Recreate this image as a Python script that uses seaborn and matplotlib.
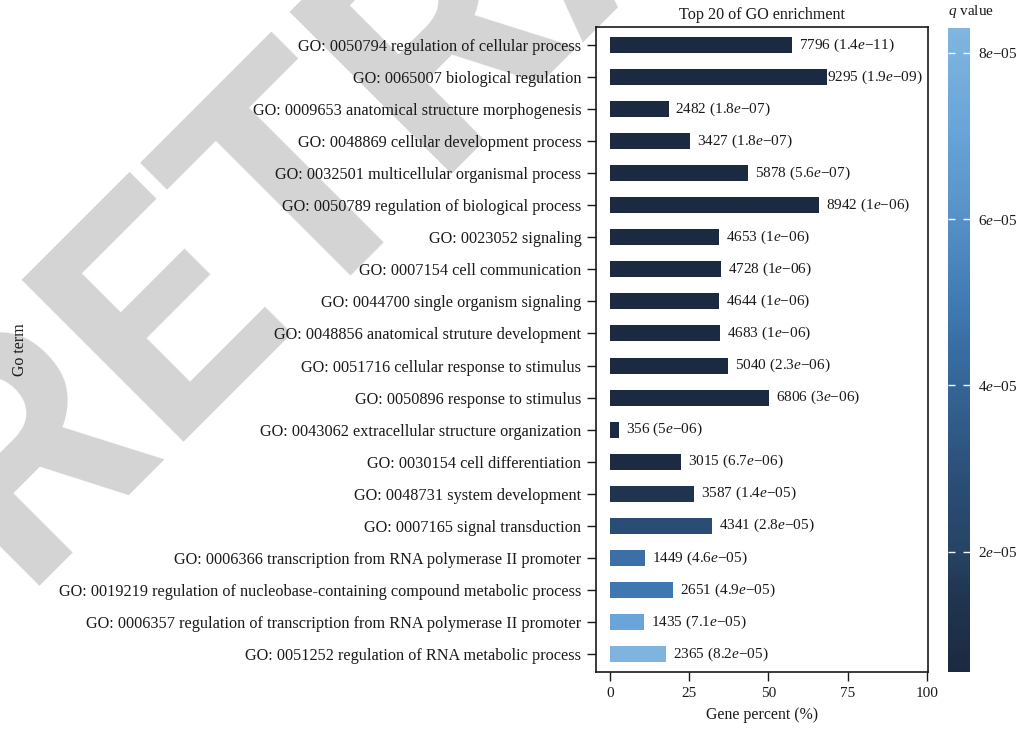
import matplotlib
matplotlib.use("Agg")
import matplotlib.pyplot as plt
from matplotlib.colors import LinearSegmentedColormap, Normalize
from matplotlib.cm import ScalarMappable
import seaborn as sns
import pandas as pd

# GO terms, top to bottom
terms = [
    "GO: 0050794 regulation of cellular process",
    "GO: 0065007 biological regulation",
    "GO: 0009653 anatomical structure morphogenesis",
    "GO: 0048869 cellular development process",
    "GO: 0032501 multicellular organismal process",
    "GO: 0050789 regulation of biological process",
    "GO: 0023052 signaling",
    "GO: 0007154 cell communication",
    "GO: 0044700 single organism signaling",
    "GO: 0048856 anatomical struture development",
    "GO: 0051716 cellular response to stimulus",
    "GO: 0050896 response to stimulus",
    "GO: 0043062 extracellular structure organization",
    "GO: 0030154 cell differentiation",
    "GO: 0048731 system development",
    "GO: 0007165 signal transduction",
    "GO: 0006366 transcription from RNA polymerase II promoter",
    "GO: 0019219 regulation of nucleobase-containing compound metabolic process",
    "GO: 0006357 regulation of transcription from RNA polymerase II promoter",
    "GO: 0051252 regulation of RNA metabolic process",
]
gene_counts = [7796, 9295, 2482, 3427, 5878, 8942, 4653, 4728, 4644, 4683,
               5040, 6806, 356, 3015, 3587, 4341, 1449, 2651, 1435, 2365]
gene_percent = [57.6, 68.4, 18.5, 25.2, 43.5, 66.0, 34.4, 35.0, 34.4, 34.8,
                37.3, 50.2, 2.8, 22.4, 26.5, 32.2, 11.0, 20.0, 10.7, 17.6]
q_mantissa = ["1.4", "1.9", "1.8", "1.8", "5.6", "1", "1", "1", "1", "1",
              "2.3", "3", "5", "6.7", "1.4", "2.8", "4.6", "4.9", "7.1", "8.2"]
q_exponent = ["11", "09", "07", "07", "07", "06", "06", "06", "06", "06",
              "06", "06", "06", "06", "05", "05", "05", "05", "05", "05"]
q_values = [float(f"{m}e-{e}") for m, e in zip(q_mantissa, q_exponent)]
cbar_ticks = [2e-5, 4e-5, 6e-5, 8e-5]

df = pd.DataFrame({"term": terms, "percent": gene_percent, "q": q_values})

sns.set_style("white")
plt.rcParams["font.family"] = ["Liberation Serif", "DejaVu Serif"]
plt.rcParams["mathtext.fontset"] = "custom"
plt.rcParams["mathtext.rm"] = "Liberation Serif"
plt.rcParams["mathtext.it"] = "Liberation Serif:italic"
plt.rcParams["axes.unicode_minus"] = True

TXT = "#1a1a1a"

cmap = LinearSegmentedColormap.from_list(
    "qblue",
    [(0.0, "#1c2a41"), (0.11, "#20344f"), (0.19, "#264465"), (0.29, "#2a4d75"),
     (0.52, "#3a70a6"), (0.56, "#3f78b0"), (0.71, "#5891c7"), (0.845, "#69a5d8"),
     (1.0, "#80b5e0")])
norm = Normalize(vmin=0.55e-5, vmax=8.3e-5, clip=True)

fig = plt.figure(figsize=(10.2, 7.3), dpi=100)

# diagonal watermark behind everything
fig.text(0.019, 0.198, "RETRACTED", rotation=45, rotation_mode="anchor",
         ha="left", va="baseline", fontsize=231, fontweight="bold",
         family="Roboto", color="#d4d4d4", zorder=-5)

ax = fig.add_axes([596 / 1020, 1 - 672 / 730, 332 / 1020, 645 / 730])
ax.set_facecolor("none")
palette = [cmap(norm(q)) for q in q_values]
sns.barplot(data=df, y="term", x="percent", hue="term", palette=palette,
            order=terms, hue_order=terms, width=0.5, orient="h",
            legend=False, ax=ax, saturation=1, edgecolor="none")

labels = []
for i, (p, n, m, e) in enumerate(zip(gene_percent, gene_counts, q_mantissa, q_exponent)):
    t = ax.annotate(f"{n} ({m}$e$\u2212{e})", xy=(p, i), xytext=(5, 0),
                    textcoords="offset points", ha="left", va="center",
                    fontsize=11, color=TXT)
    labels.append(t)

ax.set_xlim(-4.4, 100.4)
ax.set_ylim(19.56, -0.56)
ax.set_xticks([0, 25, 50, 75, 100])
ax.set_xlabel("Gene percent (%)", fontsize=11.4, labelpad=5, color=TXT)
ax.set_ylabel("")
ax.set_title("Top 20 of GO enrichment", fontsize=11.6, pad=5.5, color=TXT)
ax.tick_params(axis="both", length=6.5, width=1, color=TXT,
               labelcolor=TXT, pad=4, left=True, bottom=True)
ax.tick_params(axis="x", labelsize=11)
ax.tick_params(axis="y", labelsize=11.7)
for s in ax.spines.values():
    s.set_visible(True)
    s.set_linewidth(1.2)
    s.set_color(TXT)

fig.text(20 / 1020, 1 - 350 / 730, "Go term", rotation=90, ha="center",
         va="center", fontsize=11.4, color=TXT)

# colour bar for q value
cax = fig.add_axes([948 / 1020, 1 - 672 / 730, 22 / 1020, 644 / 730])
sm = ScalarMappable(norm=norm, cmap=cmap)
cb = fig.colorbar(sm, cax=cax)
cb.outline.set_visible(False)
cb.set_ticks(cbar_ticks)
cb.set_ticklabels([f"{t * 1e5:.0f}$e$\u221205" for t in cbar_ticks])
cax.tick_params(length=0, labelsize=11, pad=6, labelcolor=TXT)
for t in cbar_ticks:
    cax.hlines(t, 0, 0.3, color="white", lw=1)
    cax.hlines(t, 0.7, 1, color="white", lw=1)
fig.text(948 / 1020, 1 - 12 / 730, "$q$ value", ha="left", va="center",
         fontsize=11, color=TXT)

# keep value labels inside the panel frame
fig.canvas.draw()
renderer = fig.canvas.get_renderer()
right_px = ax.get_window_extent(renderer).x1 - 5
for t in labels:
    bb = t.get_window_extent(renderer)
    if bb.x1 > right_px:
        shift_pt = (bb.x1 - right_px) * 72 / fig.dpi
        t.set_position((5 - shift_pt, 0))

fig.savefig("out.png", dpi=100)
